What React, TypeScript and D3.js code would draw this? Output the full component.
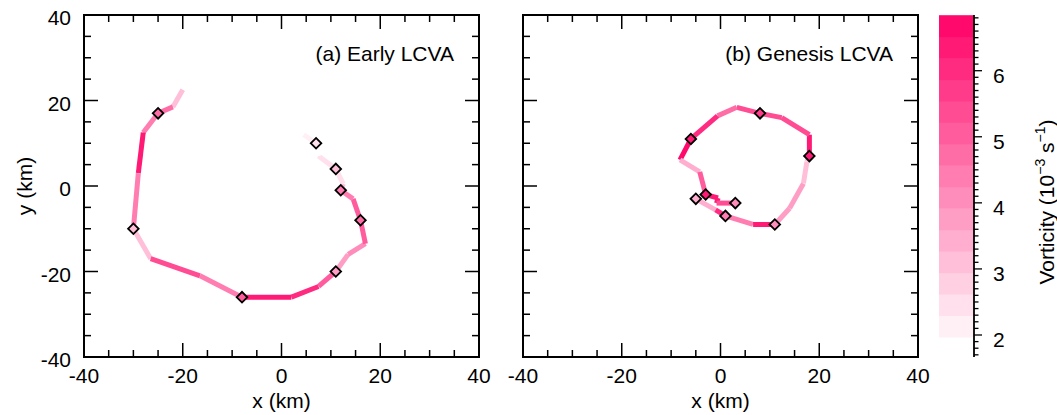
import React, { useEffect, useRef } from 'react'
import * as d3 from 'd3'

// (a) Early LCVA track, km
const trackAX = [-20, -22, -25, -28, -29, -30, -26.5, -16.5, -8, 2, 7.5, 11, 13.5, 17, 16, 14.5, 12, 12.5, 11, 7.5, 7, 4.5]
const trackAY = [22.5, 18.5, 17, 12.5, 3, -10, -17, -21, -26, -26, -23.5, -20, -16, -13.5, -8, -3, -1, 0.5, 4, 7, 10, 12]
// vorticity of each segment i -> i+1 (10^-3 s^-1)
const trackAV = [3.0, 4.6, 4.5, 6.4, 4.3, 3.0, 5.4, 4.4, 6.5, 6.0, 5.0, 3.7, 4.1, 5.0, 5.2, 4.5, 3.2, 2.6, 2.3, 1.0, 2.2]
const markerAIdx = [2, 5, 8, 11, 14, 16, 18, 20]
const markerAV = [4.7, 3.2, 5.2, 3.8, 4.6, 4.4, 3.0, 2.4]

// (b) Genesis LCVA track
const trackBX = [-5, -1, 1, 6.6, 11, 14, 16.8, 17.5, 18, 18, 12.4, 8, 3.3, -0.6, -6, -8.2, -4.2, -3, -0.5, -0.8, 3]
const trackBY = [-3, -5.6, -7, -9, -9, -5.2, 0.6, 5.7, 7, 12, 16, 17, 18.4, 16.4, 11, 6.1, 3.3, -2, -2.8, -4, -4]
const trackBV = [3.3, 6.0, 4.5, 6.2, 3.9, 3.7, 3.0, 3.0, 6.5, 5.5, 5.5, 5.3, 4.8, 6.0, 6.7, 3.4, 5.2, 6.4, 6.4, 5.4]
const markerBIdx = [0, 2, 4, 8, 11, 14, 17, 20]
const markerBV = [3.4, 4.4, 4.1, 6.5, 5.6, 6.3, 6.3, 4.1]

const axisTicks = [-40, -20, 0, 20, 40]
const cbTicks = [2, 3, 4, 5, 6]
const cbMin = 1.97
const cbMax = 6.84
const nBands = 15

const font = '"Liberation Sans", Arial, sans-serif'

function App() {
    const ref = useRef<SVGSVGElement>(null)

    useEffect(() => {
        const svg = d3.select(ref.current)
        svg.selectAll('*').remove()

        const step = (cbMax - cbMin) / nBands
        const bandColor = (i: number) => d3.interpolateRgb('#fff0f6', '#ff0a6c')(i / (nBands - 1))
        const colorOf = (v: number) => {
            if (v < cbMin) return '#ffffff'
            const i = Math.max(0, Math.min(nBands - 1, Math.floor((v - cbMin) / step)))
            return bandColor(i)
        }

        const y = d3.scaleLinear().domain([-40, 40]).range([357, 15])

        const panels = [
            { left: 84, xs: trackAX, ys: trackAY, vs: trackAV, mi: markerAIdx, mv: markerAV, title: '(a) Early LCVA', yLabels: true },
            { left: 523, xs: trackBX, ys: trackBY, vs: trackBV, mi: markerBIdx, mv: markerBV, title: '(b) Genesis LCVA', yLabels: false }
        ]

        panels.forEach(p => {
            const x = d3.scaleLinear().domain([-40, 40]).range([p.left, p.left + 395])
            const g = svg.append('g')

            // track segments
            g.selectAll('line.seg')
                .data(p.vs)
                .join('line')
                .attr('class', 'seg')
                .attr('x1', (d, i) => x(p.xs[i]))
                .attr('y1', (d, i) => y(p.ys[i]))
                .attr('x2', (d, i) => x(p.xs[i + 1]))
                .attr('y2', (d, i) => y(p.ys[i + 1]))
                .attr('stroke', d => colorOf(d))
                .attr('stroke-width', 5)
                .attr('stroke-linecap', 'butt')

            // markers
            const sym = d3.symbol().type(d3.symbolSquare).size(56)
            g.selectAll('path.mk')
                .data(p.mi)
                .join('path')
                .attr('class', 'mk')
                .attr('d', sym)
                .attr('transform', d => `translate(${x(p.xs[d])},${y(p.ys[d])}) rotate(45)`)
                .attr('fill', (d, i) => colorOf(p.mv[i]))
                .attr('stroke', '#000')
                .attr('stroke-width', 1.8)

            // frame
            g.append('rect')
                .attr('x', x(-40)).attr('y', y(40))
                .attr('width', x(40) - x(-40)).attr('height', y(-40) - y(40))
                .attr('fill', 'none').attr('stroke', '#000').attr('stroke-width', 2)

            // inward ticks on all sides
            const tv = d3.range(-35, 40, 5)
            const len = (v: number) => (v % 20 === 0 ? 14 : 7)
            tv.forEach(v => {
                g.append('line').attr('x1', x(v)).attr('x2', x(v)).attr('y1', y(-40)).attr('y2', y(-40) - len(v)).attr('stroke', '#000').attr('stroke-width', 1.5)
                g.append('line').attr('x1', x(v)).attr('x2', x(v)).attr('y1', y(40)).attr('y2', y(40) + len(v)).attr('stroke', '#000').attr('stroke-width', 1.5)
                g.append('line').attr('y1', y(v)).attr('y2', y(v)).attr('x1', x(-40)).attr('x2', x(-40) + len(v)).attr('stroke', '#000').attr('stroke-width', 1.5)
                g.append('line').attr('y1', y(v)).attr('y2', y(v)).attr('x1', x(40)).attr('x2', x(40) - len(v)).attr('stroke', '#000').attr('stroke-width', 1.5)
            })

            g.selectAll('text.xt')
                .data(axisTicks)
                .join('text')
                .attr('class', 'xt')
                .attr('x', d => x(d))
                .attr('y', 383)
                .attr('text-anchor', 'middle')
                .attr('font-family', font).attr('font-size', 21)
                .text(d => d)

            if (p.yLabels) {
                g.selectAll('text.yt')
                    .data(axisTicks)
                    .join('text')
                    .attr('class', 'yt')
                    .attr('x', 71)
                    .attr('y', d => y(d) + 10)
                    .attr('text-anchor', 'end')
                    .attr('font-family', font).attr('font-size', 21)
                    .text(d => d)
            }

            g.append('text')
                .attr('x', x((-40 + 40) / 2))
                .attr('y', 408)
                .attr('text-anchor', 'middle')
                .attr('font-family', font).attr('font-size', 21)
                .text('x (km)')

            g.append('text')
                .attr('x', x(40) - 25)
                .attr('y', 61)
                .attr('text-anchor', 'end')
                .attr('font-family', font).attr('font-size', 21)
                .text(p.title)
        })

        svg.append('text')
            .attr('transform', `translate(32,${y(0)}) rotate(-90)`)
            .attr('text-anchor', 'middle')
            .attr('font-family', font).attr('font-size', 21)
            .text('y (km)')

        // colorbar
        const cb = d3.scaleLinear().domain([2, 6]).range([335, 70.7])
        const cbg = svg.append('g')
        cbg.selectAll('rect')
            .data(d3.range(nBands))
            .join('rect')
            .attr('x', 939)
            .attr('width', 35)
            .attr('y', i => cb(cbMin + (i + 1) * step))
            .attr('height', i => cb(cbMin + i * step) - cb(cbMin + (i + 1) * step) + 0.5)
            .attr('fill', i => bandColor(i))

        cbg.append('line').attr('x1', 974).attr('x2', 974).attr('y1', 15).attr('y2', 357).attr('stroke', '#000').attr('stroke-width', 1.8)
        d3.range(17, 69).forEach(k => {
            const v = k / 10
            const major = k % 10 === 0
            cbg.append('line').attr('x1', 974).attr('x2', 974 + (major ? 8 : 4.5)).attr('y1', cb(v)).attr('y2', cb(v)).attr('stroke', '#000').attr('stroke-width', 1.3)
        })
        cbg.selectAll('text')
            .data(cbTicks)
            .join('text')
            .attr('x', 993)
            .attr('y', d => cb(d) + 12)
            .attr('font-family', font).attr('font-size', 21)
            .text(d => d)

        const lab = svg.append('text')
            .attr('transform', 'translate(1054,202) rotate(-90)')
            .attr('text-anchor', 'middle')
            .attr('font-family', font).attr('font-size', 21)
        lab.append('tspan').text('Vorticity (10')
        lab.append('tspan').attr('font-size', 14).attr('dy', -9).text('\u22123')
        lab.append('tspan').attr('dy', 9).text(' s')
        lab.append('tspan').attr('font-size', 14).attr('dy', -9).text('\u22121')
        lab.append('tspan').attr('dy', 9).text(')')
    }, [])

    return (
        <svg ref={ref} width={1057} height={415} style={{ position: 'absolute', left: 0, top: 0, background: '#fff' }}></svg>
    )
}

export default App
